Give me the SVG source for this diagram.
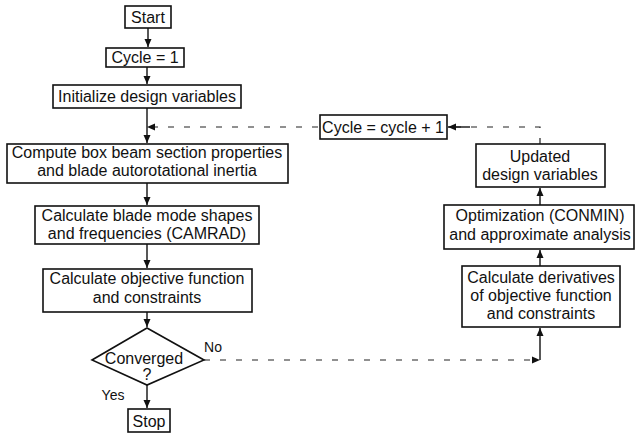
<svg xmlns="http://www.w3.org/2000/svg" width="636" height="439" viewBox="0 0 636 439">
<defs>
<marker id="ah" markerWidth="8" markerHeight="10" refX="8" refY="5" orient="auto" markerUnits="userSpaceOnUse">
<path d="M0,1.5 L8,5 L0,8.5 Z" fill="#111"/>
</marker>
</defs>
<style>
.box{fill:#fff;stroke:#111;stroke-width:1.6}
.t{font-family:"Liberation Sans",Arial,sans-serif;font-size:16px;fill:#111;text-anchor:middle}
.s{font-size:14px}
.c{fill:none;stroke:#111;stroke-width:1.4}
.d{fill:none;stroke:#222;stroke-width:1.2;stroke-dasharray:6 10}
</style>
<rect width="636" height="439" fill="#fff"/>
<g id="connectors">
<line class="c" x1="148" y1="28" x2="148" y2="47" marker-end="url(#ah)"/>
<line class="c" x1="147" y1="67" x2="147" y2="84" marker-end="url(#ah)"/>
<line class="c" x1="147" y1="108" x2="147" y2="143" marker-end="url(#ah)"/>
<line class="d" x1="318" y1="127" x2="147" y2="127" marker-end="url(#ah)"/>
<line class="c" x1="147" y1="183" x2="147" y2="205" marker-end="url(#ah)"/>
<line class="c" x1="147" y1="244" x2="147" y2="268" marker-end="url(#ah)"/>
<line class="c" x1="147" y1="312" x2="147" y2="327" marker-end="url(#ah)"/>
<line class="c" x1="147" y1="385" x2="147" y2="408" marker-end="url(#ah)"/>
<line class="d" x1="204" y1="360" x2="540" y2="360" marker-end="url(#ah)"/>
<line class="c" x1="540" y1="360" x2="540" y2="328" marker-end="url(#ah)"/>
<line class="c" x1="540" y1="266" x2="540" y2="250" marker-end="url(#ah)"/>
<line class="c" x1="540" y1="205" x2="540" y2="188" marker-end="url(#ah)"/>
<polyline class="d" points="540,144 540,127 448,127"/>
<line class="c" x1="470" y1="127" x2="448" y2="127" marker-end="url(#ah)"/>
</g>
<g id="start">
<rect class="box" x="125" y="6" width="46" height="22"/>
<text class="t" x="148" y="23">Start</text>
</g>
<g id="cycle1">
<rect class="box" x="106" y="48" width="78" height="19"/>
<text class="t" x="145" y="63">Cycle = 1</text>
</g>
<g id="init">
<rect class="box" x="53" y="85" width="188" height="23"/>
<text class="t" x="147" y="102">Initialize design variables</text>
</g>
<g id="compute">
<rect class="box" x="7" y="144" width="281" height="39"/>
<text class="t" x="147" y="158">Compute box beam section properties</text>
<text class="t" x="147" y="176">and blade autorotational inertia</text>
</g>
<g id="mode">
<rect class="box" x="35" y="206" width="224" height="38"/>
<text class="t" x="147" y="221">Calculate blade mode shapes</text>
<text class="t" x="147" y="239">and frequencies (CAMRAD)</text>
</g>
<g id="objective">
<rect class="box" x="43" y="269" width="209" height="43"/>
<text class="t" x="147" y="284">Calculate objective function</text>
<text class="t" x="147" y="303">and constraints</text>
</g>
<g id="converged">
<polygon class="box" points="147,328 204,360 147,385 92,360" fill="none"/>
<text class="t" x="144" y="364">Converged</text>
<text class="t" x="147" y="380">?</text>
<text class="t s" x="213" y="352">No</text>
<text class="t s" x="113" y="400">Yes</text>
</g>
<g id="stop">
<rect class="box" x="128" y="409" width="42" height="23"/>
<text class="t" x="149" y="427">Stop</text>
</g>
<g id="cyclenext">
<rect class="box" x="320" y="115" width="127" height="24"/>
<text class="t" x="383" y="133">Cycle = cycle + 1</text>
</g>
<g id="updated">
<rect class="box" x="476" y="144" width="129" height="43"/>
<text class="t" x="540" y="162">Updated</text>
<text class="t" x="540" y="180">design variables</text>
</g>
<g id="optim">
<rect class="box" x="444" y="205" width="190" height="44"/>
<text class="t" x="540" y="221">Optimization (CONMIN)</text>
<text class="t" x="540" y="240">and approximate analysis</text>
</g>
<g id="derivs">
<rect class="box" x="462" y="266" width="158" height="61"/>
<text class="t" x="541" y="283">Calculate derivatives</text>
<text class="t" x="541" y="301">of objective function</text>
<text class="t" x="541" y="319">and constraints</text>
</g>
</svg>
